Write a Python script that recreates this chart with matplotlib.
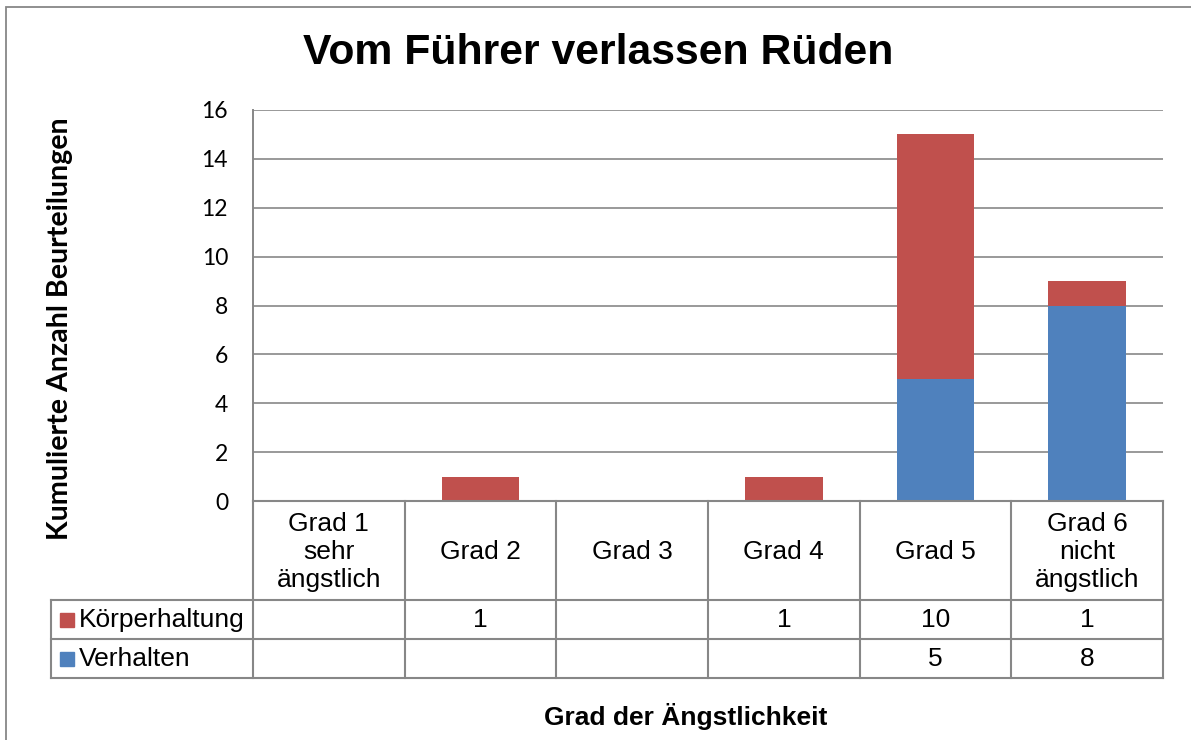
import matplotlib.pyplot as plt
import matplotlib.transforms as mtransforms
from matplotlib.lines import Line2D
from matplotlib.patches import Rectangle
import numpy as np

# Daten aus dem Diagramm
categories = ["Grad 1\nsehr\nängstlich", "Grad 2", "Grad 3", "Grad 4", "Grad 5", "Grad 6\nnicht\nängstlich"]
verhalten = [0, 0, 0, 0, 5, 8]
koerperhaltung = [0, 1, 0, 1, 10, 1]
verhalten_text = ["", "", "", "", "5", "8"]
koerper_text = ["", "1", "", "1", "10", "1"]
series_names = ["Körperhaltung", "Verhalten"]
yticks = [0, 2, 4, 6, 8, 10, 12, 14, 16]

red = "#C0504D"
blue = "#4F81BD"
grey = "#878787"
W, H = 1191, 740

plt.rcParams['font.family'] = ['Liberation Sans', 'DejaVu Sans']

fig = plt.figure(figsize=(W / 100, H / 100), dpi=100)


def fx(px):
    return px / W


def fy(py):
    return 1 - py / H


# Rahmen des Diagrammbereichs
fig.add_artist(Rectangle((fx(6), -0.1), 1.2, fy(7) + 0.1, transform=fig.transFigure,
                         fill=False, edgecolor=grey, lw=1.3))

ax = fig.add_axes([fx(253), fy(501), fx(1163) - fx(253), fy(110) - fy(501)])
x = np.arange(len(categories))
ax.bar(x, verhalten, width=0.51, color=blue, zorder=3)
ax.bar(x, koerperhaltung, width=0.51, bottom=verhalten, color=red, zorder=3)

ax.set_xlim(-0.5, len(categories) - 0.5)
ax.set_ylim(0, 16)
ax.set_yticks(yticks)
ax.set_yticklabels([str(t) for t in yticks], family='Lato', fontsize=16.5)
ax.tick_params(axis='y', length=0, pad=18)
ax.tick_params(axis='x', length=0, labelbottom=False)
ax.yaxis.grid(True, color=grey, lw=1.2, zorder=0)
for s in ['top', 'right', 'bottom']:
    ax.spines[s].set_visible(False)
ax.spines['left'].set_color(grey)
ax.spines['left'].set_linewidth(1.4)

# Datentabelle unter dem Diagramm
tr = mtransforms.blended_transform_factory(ax.transData, fig.transFigure)
lc = dict(color=grey, lw=1.5, clip_on=False)
x0 = -0.5 - (253 - 51) / ((1163 - 253) / len(categories))
xe = len(categories) - 0.5
for py in [501, 600, 639, 678]:
    left = x0 if py > 501 else -0.5
    fig.add_artist(Line2D([left, xe], [fy(py), fy(py)], transform=tr, **lc))
fig.add_artist(Line2D([x0, x0], [fy(600), fy(678)], transform=tr, **lc))
fig.add_artist(Line2D([-0.5, -0.5], [fy(501), fy(678)], transform=tr, **lc))
for k in range(len(categories)):
    fig.add_artist(Line2D([k + 0.5, k + 0.5], [fy(501), fy(678)], transform=tr, **lc))

for k, c in enumerate(categories):
    fig.text(k, fy(552), c, transform=tr, ha='center', va='center', fontsize=19, linespacing=1.22)
    fig.text(k, fy(620), koerper_text[k], transform=tr, ha='center', va='center', fontsize=19)
    fig.text(k, fy(659), verhalten_text[k], transform=tr, ha='center', va='center', fontsize=19)

for name, col, py in [(series_names[0], red, 620), (series_names[1], blue, 659)]:
    fig.add_artist(Rectangle((fx(60), fy(py + 7)), fx(14), fy(py - 7) - fy(py + 7),
                             transform=fig.transFigure, color=col))
    fig.text(fx(79), fy(py), name, ha='left', va='center', fontsize=19)

fig.text(fx(598), fy(53), "Vom Führer verlassen Rüden", ha='center', va='center',
         fontsize=30.8, fontweight='bold')
fig.text(fx(60), fy(329), "Kumulierte Anzahl Beurteilungen", ha='center', va='center',
         rotation=90, family='Lato', fontsize=20.6, fontweight='bold')
fig.text(fx(686), fy(716), "Grad der Ängstlichkeit", ha='center', va='center',
         fontsize=19, fontweight='bold')

fig.savefig("out.png", dpi=100)
